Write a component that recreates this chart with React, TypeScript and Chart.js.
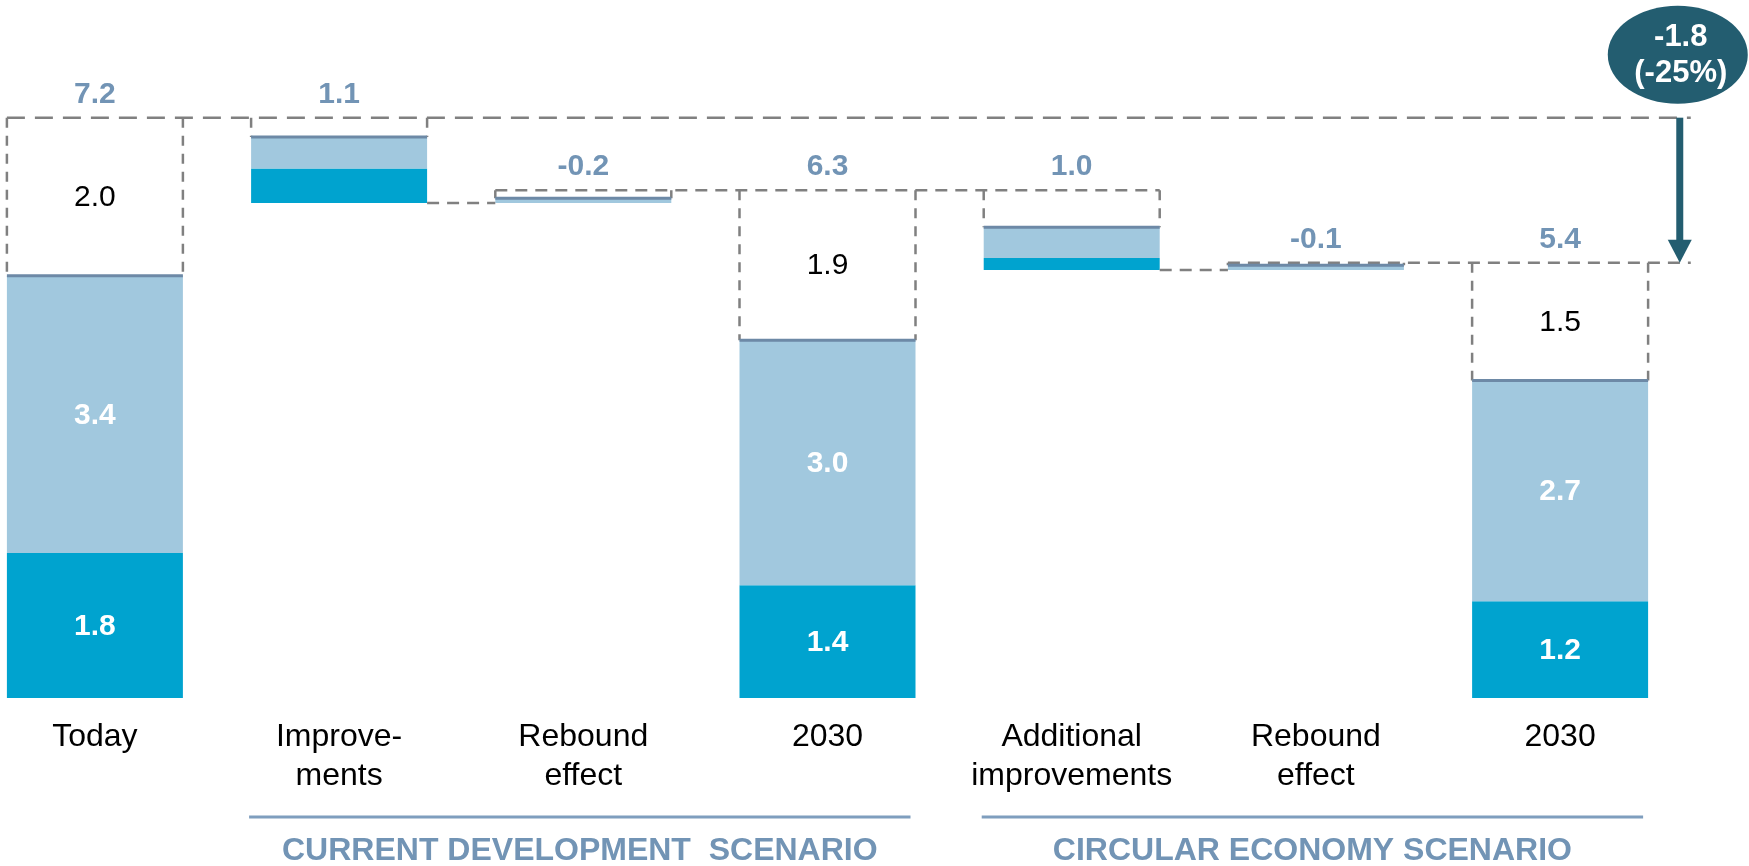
import React, { useEffect, useRef } from "react";
import { Chart, registerables } from "chart.js";

Chart.register(...registerables);

// ---------- data ----------
const CATEGORIES: string[][] = [
  ["Today"],
  ["Improve-", "ments"],
  ["Rebound", "effect"],
  ["2030"],
  ["Additional", "improvements"],
  ["Rebound", "effect"],
  ["2030"],
];

// floating segments [from, to] for each category (null = no segment)
const DARK: (number[] | null)[] = [[0, 1.8], [6.14, 6.57], null, [0, 1.4], [5.31, 5.46], null, [0, 1.2]];
const LIGHT: (number[] | null)[] = [[1.8, 5.24], [6.57, 6.96], [6.14, 6.2], [1.4, 4.44], [5.46, 5.84], [5.31, 5.37], [1.2, 3.94]];
const OPEN: (number[] | null)[] = [[5.24, 7.2], [6.96, 7.2], [6.2, 6.3], [4.44, 6.3], [5.84, 6.3], [5.37, 5.4], [3.94, 5.4]];

// kind of each column: total bars carry inner labels, change bars a signed delta
const KIND = ["total", "decrease", "increase", "total", "decrease", "increase", "total"];

const SCENARIOS = ["CURRENT DEVELOPMENT  SCENARIO", "CIRCULAR ECONOMY SCENARIO"];
const SCENARIO_SPANS = [[1, 3], [4, 6]];

// ---------- style ----------
const FONT = "'Liberation Sans', Arial, Helvetica, sans-serif";
const C_DARK = "#00a3cf";
const C_LIGHT = "#a1c8de";
const C_EDGE = "#6d89a6";
const C_DASH = "#808080";
const C_LABEL = "#7294b5";
const C_SCEN_LINE = "#7f9ebe";
const C_ARROW = "#235d70";
const BAR_PCT = 0.7207;
const HALF = BAR_PCT / 2;
const X_MIN = -0.3886;
const X_MAX = 6.7735;
const Y_MAX = 8.66;
const X_AXIS_HEIGHT = 168;
const ARROW_AT = CATEGORIES.length - 1 + 0.49;
const LINE_TAIL = 0.045;

const segTop = (i: number) => Math.max(...[DARK[i], LIGHT[i], OPEN[i]].filter(Boolean).map((s) => (s as number[])[1]));
const segBottom = (i: number) => Math.min(...[DARK[i], LIGHT[i], OPEN[i]].filter(Boolean).map((s) => (s as number[])[0]));
const fmt = (v: number) => {
  const s = (Math.round(v * 10) / 10).toFixed(1);
  return s === "-0.0" ? "0.0" : s;
};
const segLabel = (s: number[] | null) => (s ? fmt(s[1] - s[0]) : "");

const headLabel = (i: number) => {
  if (KIND[i] === "total") return fmt(segTop(i));
  const d = segTop(i) - segBottom(i);
  return KIND[i] === "decrease" ? fmt(d) : fmt(-d);
};

function barData(arr: (number[] | null)[]) {
  const out: { x: number; y: number[] }[] = [];
  arr.forEach((s, i) => {
    if (s) out.push({ x: i, y: s });
  });
  return out;
}

function connectors() {
  const last = CATEGORIES.length - 1;
  const segs: { x: number; y: number }[][] = [
    [{ x: 0 - HALF, y: segTop(0) }, { x: ARROW_AT + LINE_TAIL, y: segTop(0) }],
    [{ x: 1 + HALF, y: segBottom(1) }, { x: 2 - HALF, y: segBottom(1) }],
    [{ x: 2 - HALF, y: segTop(2) }, { x: 4 + HALF, y: segTop(2) }],
    [{ x: 4 + HALF, y: segBottom(4) }, { x: 5 - HALF, y: segBottom(4) }],
    [{ x: 5 - HALF, y: segTop(5) }, { x: ARROW_AT + LINE_TAIL, y: segTop(last) }],
  ];
  return segs.map((d, k) => ({
    type: "line" as const,
    data: d,
    borderColor: C_DASH,
    borderWidth: 2.5,
    borderDash: k === 0 ? [18, 10] : [12, 8],
    pointRadius: 0,
    fill: false,
    tension: 0,
    order: 0,
  }));
}

const annotations = {
  id: "annotations",
  afterDatasetsDraw(chart: any) {
    const { ctx, scales, chartArea } = chart;
    const x = scales.x;
    const y = scales.y;
    ctx.save();

    // open (white) boxes: dashed sides
    ctx.strokeStyle = C_DASH;
    ctx.lineWidth = 2.5;
    ctx.setLineDash([10, 8]);
    OPEN.forEach((s, i) => {
      if (!s) return;
      const l = x.getPixelForValue(i - HALF);
      const r = x.getPixelForValue(i + HALF);
      const t = y.getPixelForValue(s[1]);
      const b = y.getPixelForValue(s[0]);
      ctx.beginPath();
      ctx.moveTo(l, t);
      ctx.lineTo(l, b);
      ctx.moveTo(r, t);
      ctx.lineTo(r, b);
      ctx.stroke();
    });
    ctx.setLineDash([]);

    // solid edge on top of the light segments
    ctx.strokeStyle = C_EDGE;
    ctx.lineWidth = 3;
    LIGHT.forEach((s, i) => {
      if (!s || !OPEN[i]) return;
      const l = x.getPixelForValue(i - HALF);
      const r = x.getPixelForValue(i + HALF);
      const t = y.getPixelForValue(s[1]);
      ctx.beginPath();
      ctx.moveTo(l, t);
      ctx.lineTo(r, t);
      ctx.stroke();
    });

    // inner labels for totals
    ctx.textAlign = "center";
    ctx.textBaseline = "middle";
    CATEGORIES.forEach((_, i) => {
      if (KIND[i] !== "total") return;
      const cx = x.getPixelForValue(i);
      const put = (s: number[] | null, color: string, weight: string) => {
        if (!s) return;
        const cy = (y.getPixelForValue(s[0]) + y.getPixelForValue(s[1])) / 2;
        ctx.font = `${weight} 30px ${FONT}`;
        ctx.fillStyle = color;
        ctx.fillText(segLabel(s), cx, cy + 1);
      };
      put(DARK[i], "#ffffff", "bold");
      put(LIGHT[i], "#ffffff", "bold");
      put(OPEN[i], "#000000", "normal");
    });

    // head labels
    ctx.font = `bold 30px ${FONT}`;
    ctx.fillStyle = C_LABEL;
    ctx.textBaseline = "alphabetic";
    CATEGORIES.forEach((_, i) => {
      const cx = x.getPixelForValue(i);
      const t = y.getPixelForValue(segTop(i));
      ctx.fillText(headLabel(i), cx, t - 15);
    });

    // reduction arrow
    const last = CATEGORIES.length - 1;
    const ax = x.getPixelForValue(ARROW_AT);
    const yFrom = y.getPixelForValue(segTop(0));
    const yTo = y.getPixelForValue(segTop(last));
    ctx.strokeStyle = C_ARROW;
    ctx.fillStyle = C_ARROW;
    ctx.lineWidth = 7;
    ctx.beginPath();
    ctx.moveTo(ax, yFrom);
    ctx.lineTo(ax, yTo - 20);
    ctx.stroke();
    ctx.beginPath();
    ctx.moveTo(ax - 12, yTo - 23);
    ctx.lineTo(ax + 12, yTo - 23);
    ctx.lineTo(ax, yTo);
    ctx.closePath();
    ctx.fill();

    // ellipse badge
    const ex = ax - 2;
    const ey = yFrom - 63;
    ctx.beginPath();
    ctx.ellipse(ex, ey, 70, 49, 0, 0, Math.PI * 2);
    ctx.fill();
    const diff = segTop(last) - segTop(0);
    const pct = Math.round((diff / segTop(0)) * 100);
    ctx.fillStyle = "#ffffff";
    ctx.font = `bold 31px ${FONT}`;
    ctx.textBaseline = "middle";
    ctx.fillText(fmt(diff), ex + 3, ey - 17);
    ctx.fillText(`(${pct}%)`, ex + 3, ey + 19);

    // scenario brackets
    const lineY = chartArea.bottom + 119;
    SCENARIOS.forEach((name, k) => {
      const [a, b] = SCENARIO_SPANS[k];
      const l = x.getPixelForValue(a - HALF) - 2;
      const r = x.getPixelForValue(b + HALF) - 5;
      ctx.strokeStyle = C_SCEN_LINE;
      ctx.lineWidth = 3;
      ctx.beginPath();
      ctx.moveTo(l, lineY);
      ctx.lineTo(r, lineY);
      ctx.stroke();
      ctx.fillStyle = C_LABEL;
      ctx.font = `bold 32px ${FONT}`;
      ctx.textBaseline = "alphabetic";
      ctx.textAlign = "center";
      ctx.fillText(name, (l + r) / 2, chartArea.bottom + 162);
    });

    ctx.restore();
  },
};

export default function App() {
  const ref = useRef<HTMLCanvasElement | null>(null);

  useEffect(() => {
    if (!ref.current) return;
    const barCommon = {
      type: "bar" as const,
      grouped: false,
      borderWidth: 0,
      borderSkipped: false,
      categoryPercentage: 1,
      barPercentage: BAR_PCT,
      order: 1,
    };
    const chart = new Chart(ref.current, {
      type: "bar",
      data: {
        datasets: [
          ...connectors(),
          { ...barCommon, label: "open", data: barData(OPEN), backgroundColor: "rgba(255,255,255,0)" },
          { ...barCommon, label: "light", data: barData(LIGHT), backgroundColor: C_LIGHT },
          { ...barCommon, label: "dark", data: barData(DARK), backgroundColor: C_DARK },
        ] as any,
      },
      options: {
        animation: false,
        responsive: false,
        maintainAspectRatio: false,
        layout: { padding: 0 },
        plugins: {
          legend: { display: false },
          tooltip: { enabled: false },
          title: { display: false },
        },
        scales: {
          x: {
            type: "linear",
            min: X_MIN,
            max: X_MAX,
            offset: false,
            grid: { display: false, drawTicks: false },
            border: { display: false },
            afterBuildTicks: (axis: any) => {
              axis.ticks = CATEGORIES.map((_, i) => ({ value: i }));
            },
            afterFit: (axis: any) => {
              axis.height = X_AXIS_HEIGHT;
            },
            ticks: {
              autoSkip: false,
              maxRotation: 0,
              minRotation: 0,
              padding: 19,
              color: "#000000",
              font: { family: FONT, size: 32, lineHeight: 1.24 },
              callback: (v: any) => CATEGORIES[v as number] ?? "",
            },
          },
          y: { display: false, min: 0, max: Y_MAX },
        },
      } as any,
      plugins: [annotations],
    });
    return () => chart.destroy();
  }, []);

  return (
    <div style={{ position: "absolute", left: 0, top: 0, width: 1749, height: 866, background: "#ffffff" }}>
      <canvas ref={ref} width={1749} height={866} style={{ display: "block" }} />
    </div>
  );
}
